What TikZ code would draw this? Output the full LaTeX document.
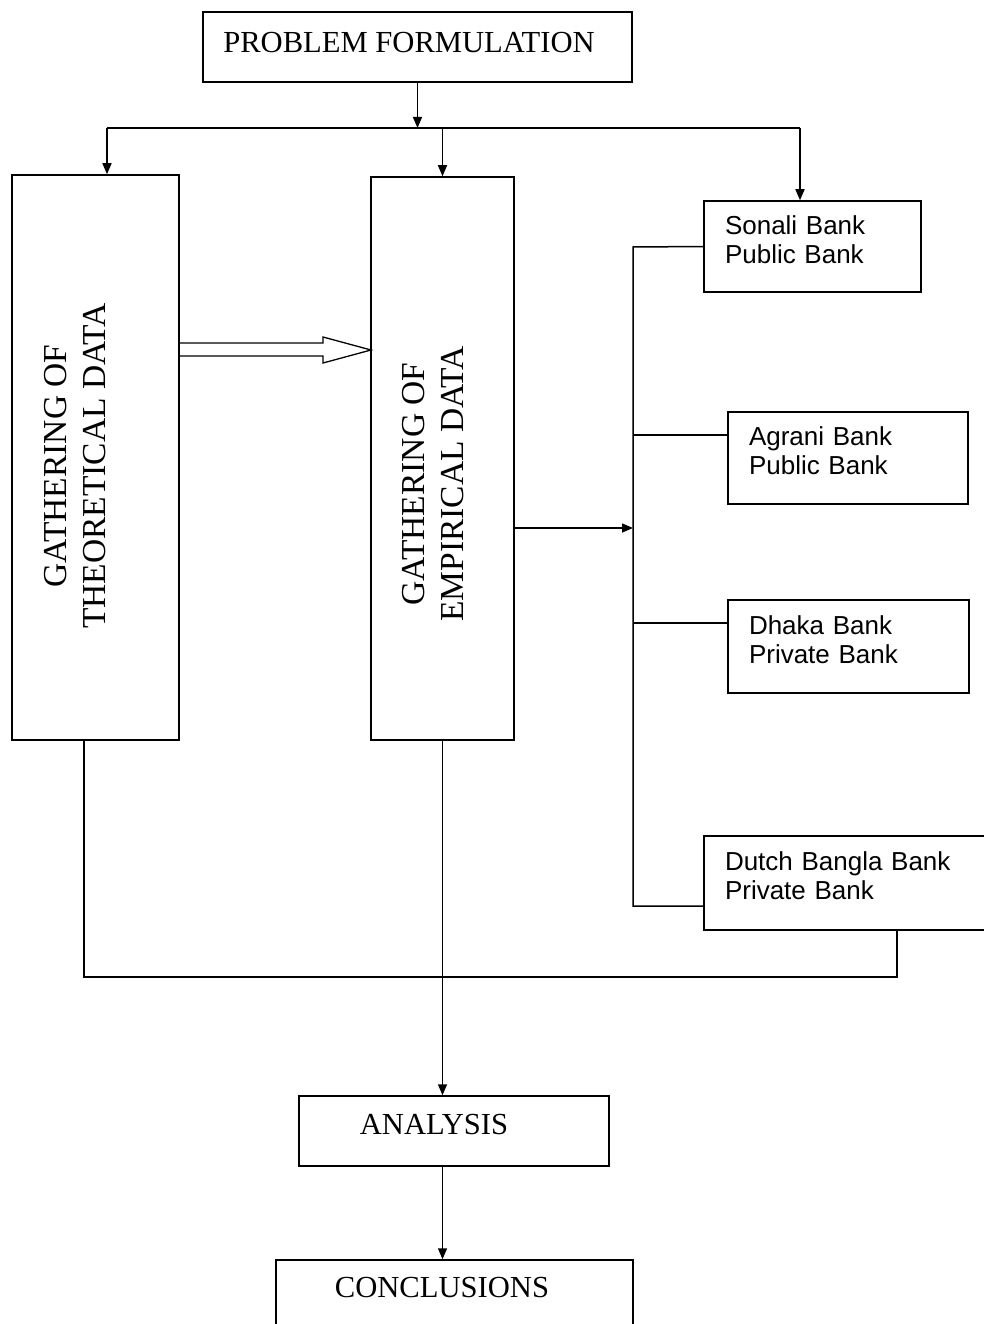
\documentclass[tikz,border=0pt]{standalone}
\usepackage{fontspec}
\setmainfont{Liberation Serif}
\newfontfamily\arialf{Liberation Sans}
\usetikzlibrary{arrows.meta}
\begin{document}
\begin{tikzpicture}[x=1pt,y=-1pt,
  line width=1.5pt,
  box/.style={draw, line width=1.5pt, inner sep=0pt},
  ttext/.style={inner sep=0pt, font=\fontsize{30.6}{36}\selectfont},
  vtext/.style={rotate=90, align=center, inner sep=0pt, font=\fontsize{33.5}{39}\selectfont},
  bank/.style={draw, line width=1.5pt, inner xsep=21pt, inner ysep=0pt, align=left,
    text depth=43pt, font=\arialf\fontsize{26}{29}\selectfont},
  arr/.style={-{Triangle[length=11pt,width=9pt]}}]
\clip (0,0) rectangle (984,1324);
\fill[white] (0,0) rectangle (984,1324);

% boxes
\node[box, minimum width=429pt, minimum height=70pt] (pf) at (417.5,47) {};
\node[ttext] (pft) at (409,43) {PROBLEM FORMULATION};

\node[box, minimum width=167pt, minimum height=565pt] (th) at (95.5,457.5) {};
\node[vtext] (tht) at (75,466) {GATHERING OF\\THEORETICAL DATA};

\node[box, minimum width=143pt, minimum height=563pt] (em) at (442.5,458.5) {};
\node[vtext] (emt) at (433,484) {GATHERING OF\\EMPIRICAL DATA};

\node[bank, text width=175pt, minimum height=91pt] (so) at (812.5,246.5) {Sonali Bank\\Public Bank};
\node[bank, text width=198pt, minimum height=92pt] (ag) at (848,458) {Agrani Bank\\Public Bank};
\node[bank, text width=199pt, minimum height=93pt] (dh) at (848.5,646.5) {Dhaka Bank\\Private Bank};
\node[bank, text width=249pt, minimum height=94pt] (du) at (849.5,883) {Dutch Bangla Bank\\Private Bank};

\node[box, minimum width=310pt, minimum height=70pt] (an) at (454,1131) {};
\node[ttext] (ant) at (434,1125) {ANALYSIS};

\node[box, minimum width=357pt, minimum height=80pt] (co) at (454.5,1300) {};
\node[ttext] (cot) at (442,1288) {CONCLUSIONS};

% top distribution
\coordinate (hl) at (107,128);
\coordinate (hr) at (800,128);
\draw (hl) -- (hr);
\draw[arr] (pf.south) -- (pf.south |- hl);
\draw[arr] (hl) -- (hl |- th.north);
\draw[arr] (em.north |- hl) -- (em.north);
\draw[arr] (hr) -- (hr |- so.north);

% hollow arrow theoretical -> empirical
\draw[line width=1.3pt] (179,343) -- (323,343) -- (323,337) -- (371,350) -- (323,363) -- (323,356) -- (179,356);

% bank bus
\coordinate (bt) at (633,247);
\coordinate (b2) at (633,435);
\coordinate (b0) at (633,528);
\coordinate (b3) at (633,623);
\coordinate (bb) at (633,906);
\draw (so.west) -- (bt) -- (bb) -- (bb -| du.west);
\draw (b2) -- (b2 -| ag.west);
\draw (b3) -- (b3 -| dh.west);
\draw[arr] (em.east |- b0) -- (b0);

% theoretical loop back
\coordinate (lb) at (84,977);
\coordinate (lr) at (897,977);
\draw (lb |- th.south) -- (lb) -- (lr) -- (lr |- du.south);

% down to analysis and conclusions
\draw[arr] (em.south) -- (em.south |- an.north);
\draw[arr] (an.south -| em.south) -- (co.north -| em.south);
\end{tikzpicture}
\end{document}
